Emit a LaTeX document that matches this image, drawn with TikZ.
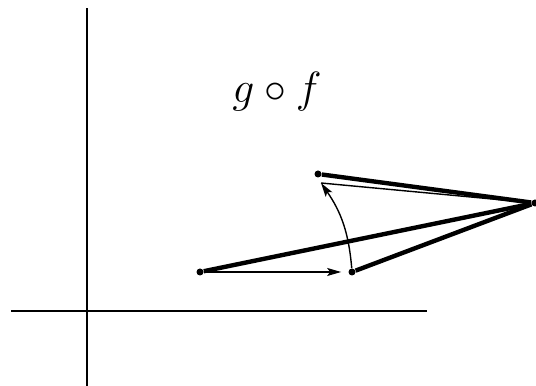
\documentclass[tikz,border=0pt]{standalone}
\usepackage{amsmath,amssymb}
\usepackage{tikz}
\usetikzlibrary{arrows.meta, positioning}

\begin{document}
\begin{tikzpicture}[
    every node/.style={font=\small},
    pt/.style={circle, fill=black, inner sep=0pt, minimum size=0.14cm},
    edge/.style={line width=2.5pt},
    axis/.style={line width=0.9pt},
    move/.style={-{Stealth[length=2.8mm, width=1.6mm, inset=0.6mm]}, line width=0.8pt}
]
\useasboundingbox (0,0) rectangle (10.72,7.72);

% axes
\draw[axis] (1.74,0) -- (1.74,7.56);
\draw[axis] (0.22,1.5) -- (8.54,1.5);

\node[font=\fontsize{26}{30}\selectfont] (lbl) at (5.54,5.88) {$g \circ f$};

\node[pt] (a) at (4.0,2.28) {};
\node[pt] (b) at (7.04,2.28) {};
\node[pt] (c) at (6.36,4.24) {};
\node[pt] (d) at (10.7,3.66) {};
\coordinate (e) at (6.42,4.06);

\draw[edge] (a) -- (d);
\draw[edge] (b) -- (d);
\draw[edge] (c) -- (d);

\draw[line width=0.8pt] (e) -- (d);
\draw[move, shorten >=0.14cm] (a) -- (b);
\draw[move] (b) to[bend right=15] (e);
\end{tikzpicture}
\end{document}
